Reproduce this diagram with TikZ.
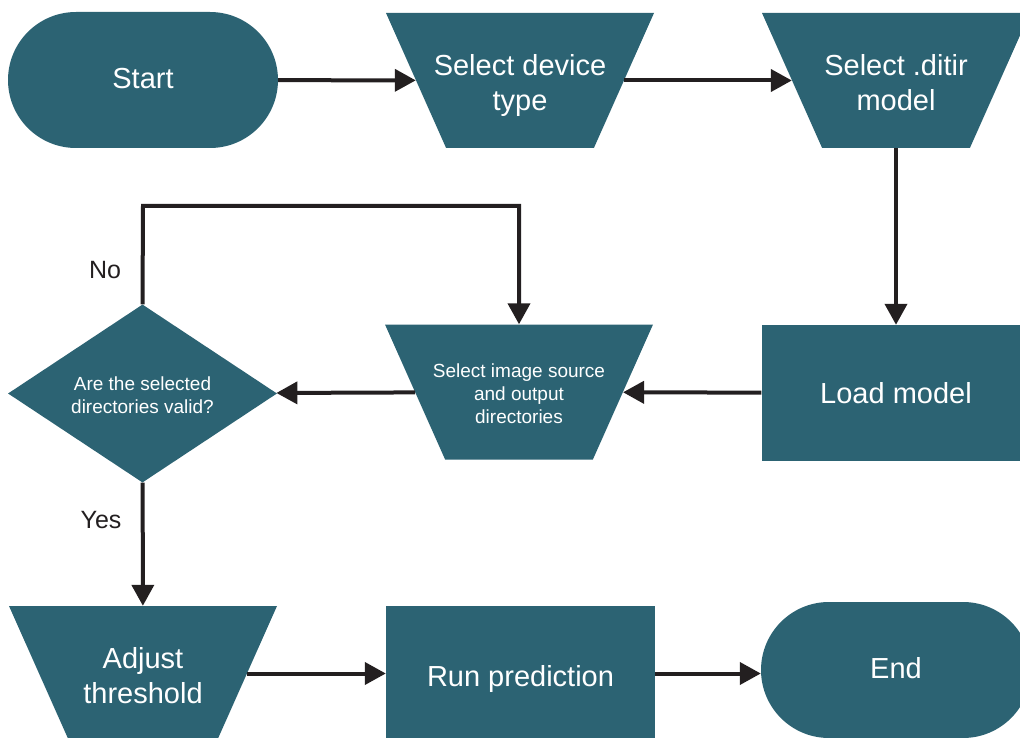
\documentclass[tikz,border=0pt]{standalone}
\usepackage{fontspec}
\setmainfont{Liberation Sans}
\usetikzlibrary{shapes.geometric,shapes.misc,arrows.meta}
\definecolor{flowfill}{HTML}{2C6373}
\definecolor{flowline}{HTML}{231F20}
\tikzset{
  base/.style={fill=flowfill, text=white, align=center, inner sep=0pt,
    font=\fontsize{29}{35}\selectfont},
  term/.style={base, rounded rectangle, minimum width=270pt, minimum height=136pt},
  % empty trapezium: its height comes from the inner y-sep, the body stretches to width
  io/.style={fill=flowfill, trapezium, trapezium left angle=66, trapezium right angle=66,
    shape border rotate=180, trapezium stretches body,
    inner xsep=0pt, inner ysep=67.5pt, minimum width=268pt},
  iotext/.style={text=white, align=center, inner sep=0pt,
    font=\fontsize{29}{35}\selectfont},
  small/.style={font=\fontsize{19}{23}\selectfont},
  proc/.style={base, rectangle, minimum width=269pt, minimum height=136pt},
  decision/.style={base, diamond, aspect=1.51, minimum width=269pt,
    minimum height=178pt, small},
  arr/.style={draw=flowline, line width=4pt, line join=miter,
    -{Triangle[length=21pt,width=22pt]}},
  lbl/.style={text=flowline, font=\fontsize{25}{30}\selectfont, inner sep=0pt}
}
\begin{document}
\begin{tikzpicture}[x=1pt,y=-1pt]
\useasboundingbox (0,0) rectangle (1020,738);
\clip (0,0) rectangle (1020,738);

% top row
\node[term] (start) at (143,80) {};
\node[iotext] (start-text) at (143,79) {Start};
\node[io] (device) at (520,80.5) {};
\node[iotext] (device-text) at (520,85.5) {Select device\\type};
\node[io] (ditir) at (896,80.5) {};
\node[iotext] (ditir-text) at (896,83) {Select .ditir\\model};

% middle row
\node[proc] (load) at (896,393) {Load model};
\node[io] (source) at (519,392) {};
\node[iotext, small] (source-text) at (519,394) {Select image source\\and output\\directories};
\node[decision] (valid) at (142.5,393.5) {};
\node[iotext, small] (valid-text) at (142.5,395.5) {Are the selected\\directories valid?};

% bottom row
\node[io] (adjust) at (143,673.5) {};
\node[iotext] (adjust-text) at (143,676) {Adjust\\threshold};
\node[proc] (run) at (520.5,673.5) {};
\node[iotext] (run-text) at (520.5,679) {Run prediction};
\node[term] (end) at (896,670) {};
\node[iotext] (end-text) at (896,668) {End};

% connectors
\draw[arr] (start) -- (device);
\draw[arr] (device) -- (ditir);
\draw[arr] (ditir) -- (load);
\draw[arr] (load) -- (source);
\draw[arr] (source) -- (valid);
\coordinate (loop) at (143,206);
\draw[arr] (valid.north) -- (loop) -| (source.north);
\draw[arr] (valid) -- (adjust);
\draw[arr] (adjust.east |- run.west) -- (run.west);
\draw[arr] (run) -- (run -| end.west);

% branch labels
\node[lbl] (no) at (105,270) {No};
\node[lbl] (yes) at (101,520) {Yes};
\end{tikzpicture}
\end{document}
